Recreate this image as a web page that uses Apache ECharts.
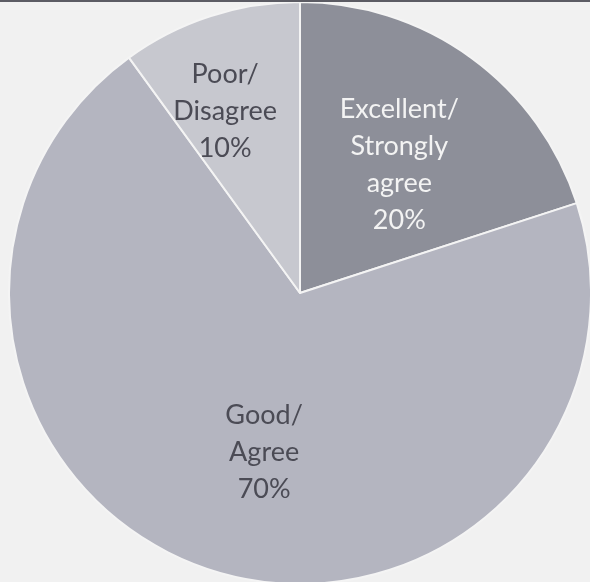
<!DOCTYPE html>
<html>
<head>
<meta charset="utf-8">
<script src="https://cdn.jsdelivr.net/npm/echarts@6/dist/echarts.min.js"></script>
<style>
  html, body { margin: 0; padding: 0; background: #f1f1f1; }
  #chart { width: 590px; height: 582px; }
  #topline { position: absolute; left: 0; top: 0; width: 590px; height: 2px; background: #5c5c64; }
</style>
</head>
<body>
<div id="chart"></div>
<div id="topline"></div>
<script>
// Survey response shares
const categories = ['Excellent/\nStrongly\nagree', 'Good/\nAgree', 'Poor/\nDisagree'];
const shares = [20, 70, 10];

const sliceColors = ['#8d8f99', '#b4b5c0', '#c7c8cf'];
const labelColors = ['#f3f3f3', '#4b4b55', '#4b4b55'];
const labelOffsets = [[12, -8], [10, 18], [-29, -40]];

const chart = echarts.init(document.getElementById('chart'));
chart.setOption({
  backgroundColor: '#f1f1f1',
  animation: false,
  series: [{
    type: 'pie',
    center: [300, 293],
    radius: 291,
    startAngle: 90,
    clockwise: true,
    avoidLabelOverlap: false,
    itemStyle: { borderColor: '#f4f4f4', borderWidth: 2 },
    label: {
      show: true,
      position: 'inside',
      fontFamily: 'Lato, "Open Sans", sans-serif',
      fontSize: 27,
      lineHeight: 37,
      align: 'center',
      formatter: p => p.name + '\n' + p.value + '%'
    },
    labelLine: { show: false },
    emphasis: { disabled: true },
    data: categories.map((name, i) => ({
      name: name,
      value: shares[i],
      itemStyle: { color: sliceColors[i] },
      label: { color: labelColors[i], offset: labelOffsets[i] }
    }))
  }]
});
</script>
</body>
</html>
